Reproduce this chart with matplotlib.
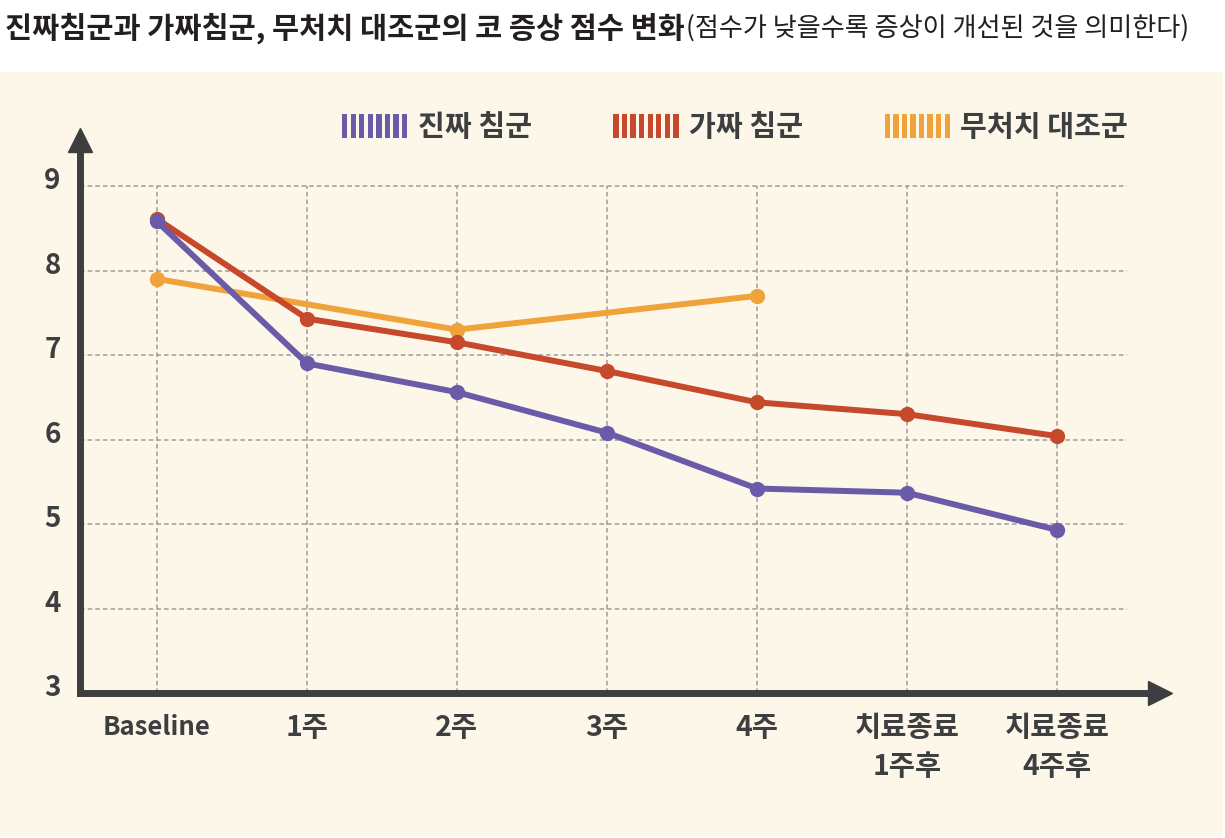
import numpy as np
import matplotlib
matplotlib.use("Agg")
import matplotlib.pyplot as plt
import matplotlib.transforms as mtransforms
from matplotlib.patches import Rectangle
from matplotlib.legend_handler import HandlerBase

plt.rcParams['font.family'] = ['Noto Sans CJK KR', 'DejaVu Sans']

# ---------------- data ----------------
categories = ['Baseline', '1주', '2주', '3주', '4주', '치료종료\n1주후', '치료종료\n4주후']
real_acu = [8.58, 6.90, 6.56, 6.08, 5.42, 5.37, 4.93]
sham_acu = [8.61, 7.43, 7.15, 6.81, 6.44, 6.30, 6.04]
no_treat = [7.90, np.nan, 7.30, np.nan, 7.70, np.nan, np.nan]
series_names = ['진짜 침군', '가짜 침군', '무처치 대조군']
y_ticks = [3, 4, 5, 6, 7, 8, 9]
title_main = '진짜침군과 가짜침군, 무처치 대조군의 코 증상 점수 변화'
title_sub = '(점수가 낮을수록 증상이 개선된 것을 의미한다)'

# ---------------- style ----------------
C_PURPLE = '#6a5ba8'
C_RED = '#c5492a'
C_ORANGE = '#f0a33a'
C_TEXT = '#3d3e40'
C_BG = '#fdf7ea'
C_GRID = '#9c9c9c'

W, H = 1225, 838
fig = plt.figure(figsize=(W / 100, H / 100), dpi=100)
fig.patch.set_facecolor('white')
fig.patches.append(Rectangle((0, 2 / H), 1223 / W, (838 - 72 - 2) / H,
                             transform=fig.transFigure, facecolor=C_BG,
                             edgecolor='none', zorder=-10))

# axes placed in pixel geometry
ax_l, ax_r, ax_t, ax_b = 80, 1172, 128, 693
ax = fig.add_axes([ax_l / W, (H - ax_b) / H, (ax_r - ax_l) / W, (ax_b - ax_t) / H])
ax.set_facecolor('none')
x0_px, dx_px = 157, 150
px_per_unit = 84.5
ax.set_xlim((ax_l - x0_px) / dx_px, (ax_r - x0_px) / dx_px)
ax.set_ylim(3, 9 + (186 - ax_t) / px_per_unit)

x = np.arange(len(categories))
xmin, xmax = ax.get_xlim()
ymin, ymax = ax.get_ylim()

# grid
grid_right = (1127 - x0_px) / dx_px
ax.hlines(y_ticks[1:], xmin, grid_right, colors=C_GRID, linestyles=(0, (3, 2)),
          linewidth=1.1, zorder=1)
ax.vlines(x, 3, 9, colors=C_GRID, linestyles=(0, (3, 2)), linewidth=1.1, zorder=1)

# spines as arrows
for s in ['top', 'right']:
    ax.spines[s].set_visible(False)
for s in ['left', 'bottom']:
    ax.spines[s].set_linewidth(5)
    ax.spines[s].set_color(C_TEXT)
    ax.spines[s].set_zorder(5)
    ax.spines[s].set_capstyle('projecting')
ax.spines['left'].set_bounds(3, ymax - 22 / px_per_unit)
ax.spines['bottom'].set_bounds(xmin, xmax - 22 / dx_px)

up_tr = mtransforms.offset_copy(ax.transAxes, fig=fig, x=0, y=-12, units='dots')
ax.plot([0], [1], marker='^', markersize=17, color=C_TEXT, transform=up_tr,
        clip_on=False, zorder=6)
rt_tr = mtransforms.offset_copy(ax.transAxes, fig=fig, x=-12, y=0, units='dots')
ax.plot([1], [0], marker='>', markersize=17, color=C_TEXT, transform=rt_tr,
        clip_on=False, zorder=6)

# data lines
nt = np.array(no_treat, dtype=float)
m = ~np.isnan(nt)
ax.plot(x[m], nt[m], color=C_ORANGE, lw=4.3, marker='o', ms=10, zorder=3,
        solid_capstyle='round', label=series_names[2])
ax.plot(x, sham_acu, color=C_RED, lw=4.3, marker='o', ms=10, zorder=3.1,
        solid_capstyle='round', label=series_names[1])
ax.plot(x, real_acu, color=C_PURPLE, lw=4.3, marker='o', ms=10, zorder=3.2,
        solid_capstyle='round', label=series_names[0])

# ticks
ax.set_xticks(x)
ax.set_xticklabels(categories, fontsize=20.5, fontweight='bold', color=C_TEXT,
                   linespacing=1.5, va='top')
for lab in ax.get_xticklabels():
    if lab.get_text() == 'Baseline':
        lab.set_fontsize(18.5)
ax.set_yticks(y_ticks)
ax.set_yticklabels([str(v) for v in y_ticks], fontsize=20, fontweight='bold',
                   color=C_TEXT)
ax.tick_params(axis='both', length=0)
ax.tick_params(axis='x', pad=15)
ax.tick_params(axis='y', pad=14)
yoff = mtransforms.ScaledTranslation(0, 8 / 100, fig.dpi_scale_trans)
for lab in ax.get_yticklabels():
    lab.set_transform(lab.get_transform() + yoff)


# legend with striped swatches
class StripeHandler(HandlerBase):
    def __init__(self, color, n=8):
        super().__init__()
        self.color = color
        self.n = n

    def create_artists(self, legend, orig_handle, xdescent, ydescent,
                       width, height, fontsize, trans):
        n = self.n
        b = width / (n + (n - 1) * 0.6)
        g = 0.6 * b
        arts = []
        for i in range(n):
            r = Rectangle((-xdescent + i * (b + g), -ydescent), b, height,
                          facecolor=self.color, edgecolor='none', transform=trans)
            arts.append(r)
        return arts


h_p = Rectangle((0, 0), 1, 1)
h_r = Rectangle((0, 0), 1, 1)
h_o = Rectangle((0, 0), 1, 1)
leg = fig.legend([h_p, h_r, h_o], series_names, ncol=3, frameon=False,
                 loc='center', bbox_to_anchor=(735 / W, 1 - 127 / H),
                 bbox_transform=fig.transFigure,
                 handler_map={h_p: StripeHandler(C_PURPLE),
                              h_r: StripeHandler(C_RED),
                              h_o: StripeHandler(C_ORANGE)},
                 prop={'size': 21, 'weight': 'bold'},
                 handlelength=2.24, handleheight=0.86, handletextpad=0.35,
                 columnspacing=2.8, borderpad=0, borderaxespad=0)
for t in leg.get_texts():
    t.set_color(C_TEXT)

# title
t1 = fig.text(5 / W, 1 - 28 / H, title_main, fontsize=21.2, fontweight='bold',
              color='#231f20', ha='left', va='center')
fig.canvas.draw()
bb = t1.get_window_extent()
fig.text((bb.x1 + 1) / W, 1 - 28 / H, title_sub, fontsize=18.8,
         fontweight='normal', color='#231f20', ha='left', va='center')

fig.savefig('out.png', dpi=100, facecolor=fig.get_facecolor())
